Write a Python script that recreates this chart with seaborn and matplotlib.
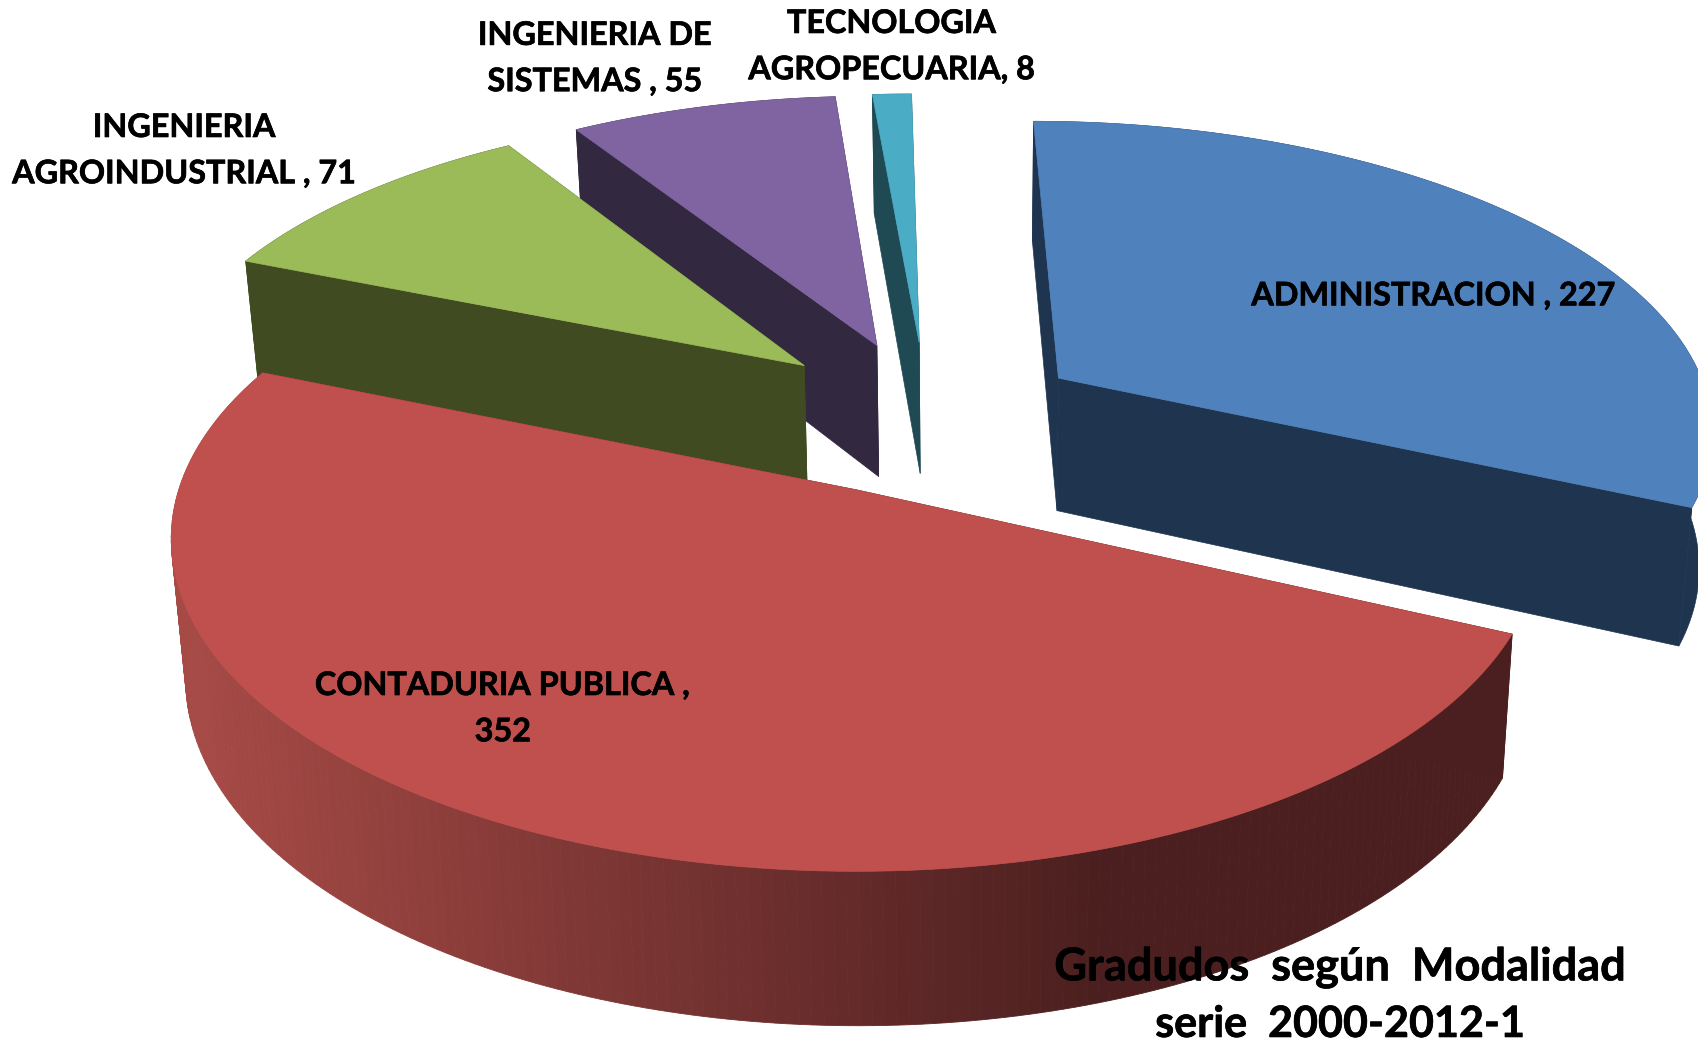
import numpy as np
import matplotlib
matplotlib.use("Agg")
import matplotlib.pyplot as plt
import matplotlib.patheffects as pe
from matplotlib.colors import to_rgb
import seaborn as sns

categories = ["ADMINISTRACION", "CONTADURIA PUBLICA", "INGENIERIA AGROINDUSTRIAL",
              "INGENIERIA DE SISTEMAS", "TECNOLOGIA AGROPECUARIA"]
values = [227, 352, 71, 55, 8]
label_texts = ["ADMINISTRACION , 227", "CONTADURIA PUBLICA ,\n352", "INGENIERIA\nAGROINDUSTRIAL , 71",
               "INGENIERIA DE\nSISTEMAS , 55", "TECNOLOGIA\nAGROPECUARIA, 8"]
title_lines = ["Gradudos  según  Modalidad", "serie  2000-2012-1"]

top_colors = ["#4F81BD", "#C0504D", "#9BBB59", "#8064A2", "#4BACC6"]
wall_colors = ["#1F344E", "#4B1F1F", "#404B22", "#32283F", "#1F4A54"]
rim_left = "#A64A46"
rim_right = "#4B1F1F"

# layout of the exploded slices (disc units)
offset_u = [0.315, 0.0, -0.081, 0.033, 0.10]
offset_v = [0.362, 0.0, 0.405, 0.475, 0.485]
depth_factor = [1.0, 1.0, 0.92, 1.0, 1.0]
label_x = [1323, 464, 170, 549, 823]
label_y = [272, 653, 138, 53, 42]
title_y = [893, 945]
title_size = [32.5, 31.0]

W, H = 1699, 1043
S = W / 1568
CX, CY, A, B, K = 790 * S, 452 * S, 625 * S, 300 * S, 0.148
D0 = 127 * S

sns.set_theme(style="white")
plt.rcParams["font.family"] = ["Lato", "DejaVu Sans"]
palette_top = sns.color_palette(top_colors)
palette_wall = sns.color_palette(wall_colors)


def project(u, v, depth=0.0):
    w = 1 + K * v
    x = CX + A * u / w
    y = CY - B * v / w
    if depth:
        x = x + (900 * S - x) * 0.018 * depth
        y = y + depth * D0 * w ** -0.72
    return x, y


fig = plt.figure(figsize=(W / 100, H / 100), dpi=100, facecolor="white")
ax = fig.add_axes([0, 0, 1, 1])
ax.set_xlim(0, W)
ax.set_ylim(H, 0)
ax.axis("off")

fractions = np.array(values) / np.sum(values)
edges = np.concatenate([[0], np.cumsum(fractions)]) * 2 * np.pi
i_z = {4: 1, 3: 2, 2: 3, 0: 4, 1: 5}


def draw_slice(i):
    th = np.linspace(edges[i], edges[i + 1], 200)
    ou, ov = offset_u[i], offset_v[i]
    u, v = np.sin(th) + ou, np.cos(th) + ov
    d = depth_factor[i]
    # radial cut walls
    for k in (0, -1):
        pu, pv = np.array([ou, u[k]]), np.array([ov, v[k]])
        x0, y0 = project(pu, pv)
        x1, y1 = project(pu, pv, d)
        ax.fill(np.r_[x0, x1[::-1]], np.r_[y0, y1[::-1]], color=palette_wall[i], lw=0.5, zorder=i_z[i])
    # outer rim
    x0, y0 = project(u, v)
    x1, y1 = project(u, v, d)
    if i == 1:
        cl, cr = np.array(to_rgb(rim_left)), np.array(to_rgb(rim_right))
        for j in range(len(th) - 1):
            t = np.clip((x0[j] - 180 * S) / (1020 * S - 180 * S), 0, 1)
            ax.fill([x0[j], x0[j + 1], x1[j + 1], x1[j]], [y0[j], y0[j + 1], y1[j + 1], y1[j]],
                    color=tuple(cl + (cr - cl) * t), lw=0.6, zorder=i_z[i])
    else:
        ax.fill(np.r_[x0, x1[::-1]], np.r_[y0, y1[::-1]], color=palette_wall[i], lw=0.5, zorder=i_z[i])
    # top face
    xa, ya = project(np.array([ou]), np.array([ov]))
    ax.fill(np.r_[xa, x0], np.r_[ya, y0], color=palette_top[i], lw=0.5, zorder=i_z[i] + 0.5)


for i in [4, 3, 2, 0, 1]:
    draw_slice(i)

heavy = [pe.withStroke(linewidth=0.5, foreground="black")]
for txt, lx, ly in zip(label_texts, label_x, label_y):
    ax.text(lx * S, (ly + 1) * S, txt, ha="center", va="center", fontsize=23.3, fontweight="bold",
            color="black", linespacing=1.72, zorder=10, path_effects=heavy)

for line, ty, ts in zip(title_lines, title_y, title_size):
    ax.text(1237 * S, ty * S, line, ha="center", va="center", fontsize=ts, fontweight="bold",
            color="black", zorder=10, path_effects=heavy)

fig.savefig("out.png", dpi=100, facecolor="white")
